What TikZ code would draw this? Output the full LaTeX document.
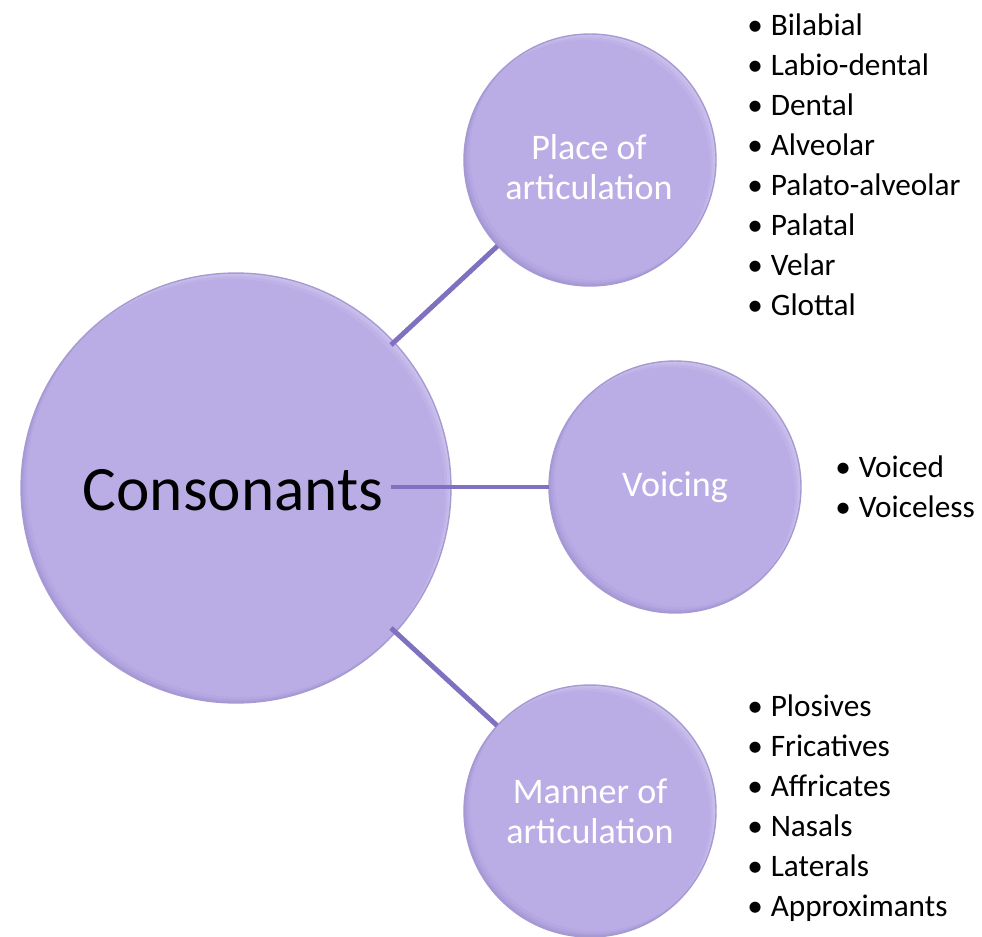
\documentclass[tikz,border=0pt]{standalone}
\usepackage{fontspec}
\setmainfont{Carlito}
\definecolor{circleLilac}{RGB}{186,173,230}
\definecolor{circleRim}{RGB}{165,154,210}
\definecolor{circleShade}{RGB}{120,104,180}
\definecolor{linkPurple}{RGB}{128,112,192}
% soft bevel on a round node: light crescent top right, dark one bottom left
\newcommand{\bevelring}[2]{%
  \begin{scope}
    \clip (#1.center) circle (#2);
    \foreach \d/\o in {0.03/0.14, 0.07/0.10, 0.12/0.07} {
      \fill[white, opacity=\o, even odd rule] (#1.center) circle (#2) ([shift={(-\d cm,-\d cm)}]#1.center) circle (#2);
      \fill[circleShade, opacity=\o, even odd rule] (#1.center) circle (#2) ([shift={(\d cm,\d cm)}]#1.center) circle (#2);
    }
  \end{scope}
  \draw[circleRim, line width=0.8pt] (#1.center) circle (#2);}
\begin{document}
\begin{tikzpicture}[x=0.02cm, y=-0.02cm,
    hub/.style={circle, fill=circleLilac, minimum size=8.6cm, inner sep=0pt, font=\fontsize{36}{40}\selectfont},
    topic/.style={circle, fill=circleLilac, minimum size=5.04cm, inner sep=0pt, text=white, align=center, font=\fontsize{20.5}{22.8}\selectfont},
    items/.style={anchor=west, inner sep=0pt, align=left, font=\fontsize{17.8}{22.8}\selectfont},
    link/.style={linkPurple, line width=2.8pt}]
    \useasboundingbox (0,0) rectangle (982,936);

    % main circle
    \node[hub] (cons) at (236,488) {};
    \bevelring{cons}{4.3cm}
    \node (consText) at (233,490) {\fontsize{36}{40}\selectfont Consonants};

    % link start points
    \coordinate (fromPlace) at (391,345);
    \coordinate (fromVoice) at (391,487);
    \coordinate (fromManner) at (391,628);

    % topic circles
    \node[topic] (place) at (590,160) {};
    \bevelring{place}{2.52cm}
    \node[text=white, align=center, font=\fontsize{20.5}{22.8}\selectfont] (placeText) at (589,167) {Place of\\articulation};
    \node[topic] (voice) at (675,487) {Voicing};
    \bevelring{voice}{2.52cm}
    \node[topic] (manner) at (590,811) {Manner of\\articulation};
    \bevelring{manner}{2.52cm}

    % links
    \draw[link] (fromPlace) -- (place);
    \draw[link] (fromVoice) -- (voice);
    \draw[link] (fromManner) -- (manner);

    % bullet lists
    \newcommand{\bul}{\makebox[0.75em][l]{\textbullet}}
    \node[items] (placeList) at (747,165) {\bul Bilabial\\\bul Labio-dental\\\bul Dental\\\bul Alveolar\\\bul Palato-alveolar\\\bul Palatal\\\bul Velar\\\bul Glottal};
    \node[items] (voiceList) at (835,487) {\bul Voiced\\\bul Voiceless};
    \node[items] (mannerList) at (747,808) {\bul Plosives\\\bul Fricatives\\\bul Affricates\\\bul Nasals\\\bul Laterals\\\bul Approximants};
\end{tikzpicture}
\end{document}
